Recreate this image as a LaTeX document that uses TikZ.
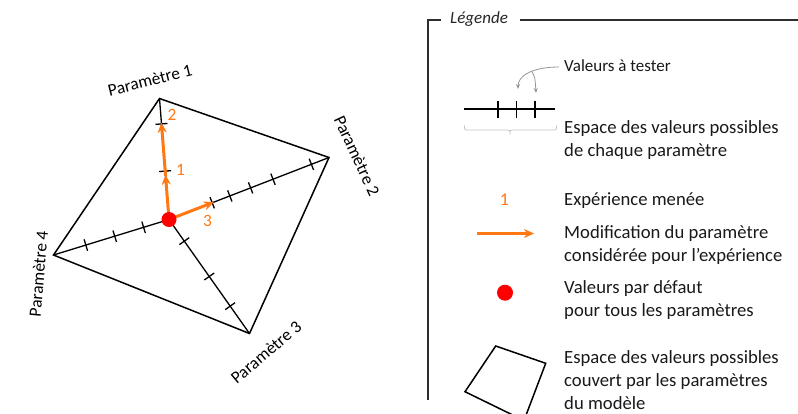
\documentclass[tikz,border=0pt]{standalone}
\usepackage{fontspec}
\setmainfont{Carlito}
\usetikzlibrary{calc,arrows.meta}
\definecolor{orng}{RGB}{255,120,20}
\definecolor{framecol}{RGB}{45,45,45}
\definecolor{grayarc}{RGB}{150,150,150}
\definecolor{graybrace}{RGB}{195,195,195}
\newcommand\mytick[3]{\draw[axisline] ($(#1)!#3!(#2)!6bp!90:(#2)$) -- ($(#1)!#3!(#2)!6bp!-90:(#2)$);}
\begin{document}
\begin{tikzpicture}[x=1bp,y=-1bp,
  edgeline/.style={line width=1.5bp,black,line join=miter},
  axisline/.style={line width=1.3bp,black},
  orarrow/.style={line width=3bp,orng,-{Stealth[length=10bp,width=9bp]}},
  paramlbl/.style={font=\fontsize{17.3bp}{21bp}\selectfont,inner sep=0},
  numlbl/.style={font=\fontsize{17.3bp}{21bp}\selectfont,text=orng,inner sep=0},
  legtxt/.style={font=\fontsize{18.67bp}{22bp}\selectfont,anchor=base west,inner sep=0,text=black!90},
  framel/.style={line width=1.5bp,framecol},
  grayarrow/.style={line width=0.8bp,grayarc,-{Stealth[length=5bp,width=4bp]}}]
\useasboundingbox (0,0) rectangle (798,413);
\clip (0,0) rectangle (798,413);
% main diagram
\coordinate (c) at (169,219.5);
\coordinate (p1) at (159.5,98.5);
\coordinate (p2) at (329,157.5);
\coordinate (p3) at (249.5,333.5);
\coordinate (p4) at (53.5,255);
\draw[edgeline] (p1) -- (p2) -- (p3) -- (p4) -- cycle;
\draw[axisline] (c) -- (p1);
\draw[axisline] (c) -- (p2);
\draw[axisline] (c) -- (p3);
\draw[axisline] (c) -- (p4);
\mytick{c}{p1}{0.40}
\mytick{c}{p1}{0.79}
\mytick{c}{p2}{0.27}
\mytick{c}{p2}{0.38}
\mytick{c}{p2}{0.51}
\mytick{c}{p2}{0.65}
\mytick{c}{p2}{0.89}
\mytick{c}{p3}{0.19}
\mytick{c}{p3}{0.50}
\mytick{c}{p3}{0.76}
\mytick{c}{p4}{0.22}
\mytick{c}{p4}{0.47}
\mytick{c}{p4}{0.72}
\coordinate (a1) at ($(c)!0.37!(p1)$);
\coordinate (a1s) at ($(c)!0.36!(p1)$);
\coordinate (a2) at ($(c)!0.80!(p1)$);
\coordinate (a3) at ($(c)!0.28!(p2)$);
\draw[orarrow] (c) -- (a1);
\draw[orarrow] (a1s) -- (a2);
\draw[orarrow] (c) -- (a3);
\fill[red] (c) circle (7.5);
\node[numlbl] (n2) at (172,115) {2};
\node[numlbl] (n1) at (180.5,169.5) {1};
\node[numlbl] (n3) at (207.5,221) {3};
\node[paramlbl,rotate=14] (l1) at (150,80) {Paramètre 1};
\node[paramlbl,rotate=-65] (l2) at (357,156) {Paramètre 2};
\node[paramlbl,rotate=40] (l3) at (266,352.5) {Paramètre 3};
\node[paramlbl,rotate=85] (l4) at (38.5,274) {Paramètre 4};
% legend frame
\node[font=\fontsize{17bp}{20bp}\selectfont\itshape,anchor=base west,inner sep=0,text=black!85] (leg) at (450,23.8) {Légende};
\coordinate (fa) at (441,20);
\coordinate (fb) at (428,20);
\coordinate (fc) at (428,400);
\coordinate (fd) at (520,20);
\coordinate (fe) at (798,20);
\draw[framel] (fa) -- (fb) -- (fc);
\draw[framel] (fd) -- (fe);
% legend: axis with ticks
\coordinate (la) at (464,109);
\coordinate (lb) at (555,109);
\draw[axisline] (la) -- (lb);
\draw[axisline] (498,100.5) -- (498,118);
\draw[axisline] (516.5,100.5) -- (516.5,118);
\draw[axisline] (535,100.5) -- (535,118);
\node[legtxt,font=\fontsize{17bp}{20bp}\selectfont] (vt) at (564,71.5) {Valeurs à tester};
\coordinate (g0) at (559,67);
\coordinate (g1) at (518,89);
\coordinate (g2) at (536,93);
\draw[grayarrow] (g0) .. controls (532,67) and (518,76) .. (g1);
\draw[grayarrow] (531.5,71) .. controls (535,77) .. (g2);
\draw[graybrace,line width=0.8bp] (464.5,125.5) .. controls (464.5,130) .. (469,130) -- (506,130) .. controls (510,130) .. (510,134.5) .. controls (510,130) .. (514,130) -- (552,130) .. controls (556.5,130) .. (556.5,125.5);
\node[legtxt] (t1a) at (564,133.3) {Espace des valeurs possibles};
\node[legtxt] (t1b) at (564,156.3) {de chaque paramètre};
% legend: experiment number
\node[font=\fontsize{18bp}{21bp}\selectfont,text=orng,anchor=base,inner sep=0] (ln) at (504.5,205) {1};
\node[legtxt] (t2) at (564,205) {Expérience menée};
% legend: arrow
\coordinate (oa) at (477,233.5);
\coordinate (ob) at (534,233.5);
\draw[orarrow] (oa) -- (ob);
\node[legtxt] (t3a) at (564,238.5) {Modification du paramètre};
\node[legtxt] (t3b) at (564,261.5) {considérée pour l’expérience};
% legend: red dot
\fill[red] (505,292.7) circle (8);
\node[legtxt] (t4a) at (564,293.5) {Valeurs par défaut};
\node[legtxt] (t4b) at (564,316.5) {pour tous les paramètres};
% legend: quadrilateral
\draw[edgeline] (495.7,346) -- (545.7,363.3) -- (524,420.5) -- (465,391.7) -- cycle;
\node[legtxt] (t5a) at (564,363.3) {Espace des valeurs possibles};
\node[legtxt] (t5b) at (564,386.3) {couvert par les paramètres};
\node[legtxt] (t5c) at (564,409.3) {du modèle};
\end{tikzpicture}
\end{document}
